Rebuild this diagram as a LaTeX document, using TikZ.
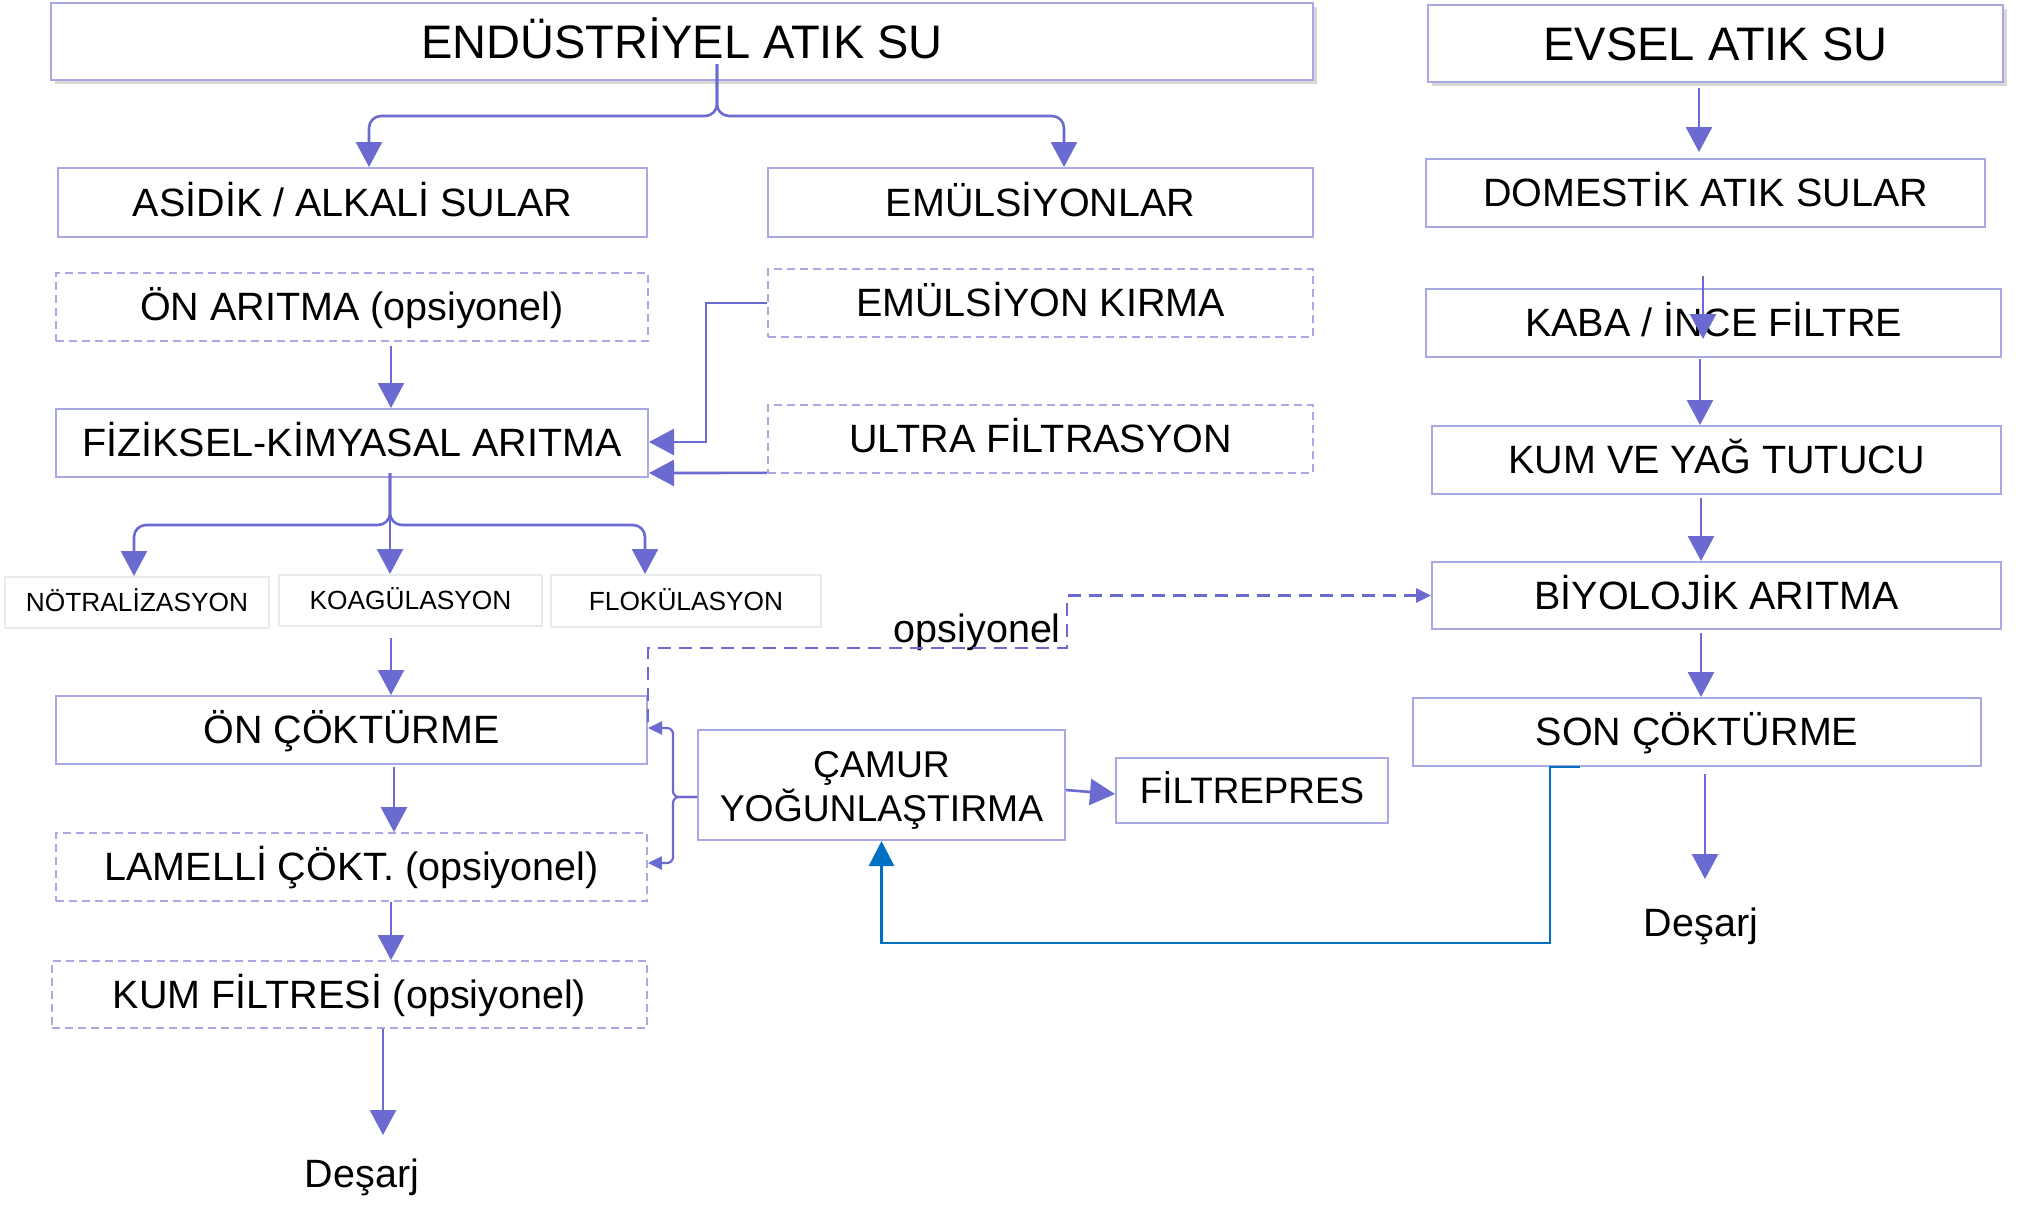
\documentclass[tikz,border=0pt]{standalone}
\usepackage{fontspec}
\setmainfont{Liberation Sans}
\usetikzlibrary{arrows.meta,shadows,calc}
\definecolor{boxc}{RGB}{168,168,228}
\definecolor{arrc}{RGB}{106,106,208}
\definecolor{blu}{RGB}{0,112,192}
\definecolor{lgray}{RGB}{234,234,234}

\begin{document}
\begin{tikzpicture}[x=1pt,y=-1pt,
  box/.style={draw=boxc, line width=2pt, fill=white, inner sep=0pt},
  dbox/.style={box, line width=1.8pt, dash pattern=on 8pt off 5pt},
  gbox/.style={box, draw=lgray},
  shad/.style={drop shadow={shadow xshift=4pt, shadow yshift=-4pt, opacity=0.25, fill=black!60}},
  tA/.style={font=\fontsize{47}{56}\selectfont, text height=34pt, text depth=1pt},
  tB/.style={font=\fontsize{39.5}{47}\selectfont, text height=28.5pt, text depth=1pt},
  tBs/.style={font=\fontsize{36.8}{45}\selectfont, text height=26.5pt, text depth=1pt},
  tC/.style={font=\fontsize{26.3}{31}\selectfont, text height=19pt, text depth=0.5pt},
  arr/.style={draw=arrc, line width=2.6pt, -{Triangle[length=25pt,width=26pt]}},
  sarr/.style={draw=arrc, line width=2.2pt, -{Triangle[length=14pt,width=13pt]}},
  barr/.style={draw=blu, line width=2.6pt, -{Triangle[length=25pt,width=25pt]}},
  dsh/.style={draw=arrc, line width=2.6pt, dash pattern=on 13pt off 8pt,
              -{Triangle[length=15pt,width=14pt]}},
]
\useasboundingbox[fill=white] (0,0) rectangle (2018,1211);

% ---- industrial line ----
\node[box, shad, tA, minimum width=1262pt, minimum height=77pt] (ind) at (682,41.5) {ENDÜSTRİYEL ATIK SU};
\node[box, tB, minimum width=589pt, minimum height=69pt] (asi) at (352.5,202.5) {ASİDİK / ALKALİ SULAR};
\node[box, tB, minimum width=545pt, minimum height=69pt] (emu) at (1040.5,202.5) {EMÜLSİYONLAR};
\node[dbox, tB, minimum width=592pt, minimum height=68pt] (onar) at (352,307) {ÖN ARITMA (opsiyonel)};
\node[dbox, tB, minimum width=545pt, minimum height=68pt] (emk) at (1040.5,303) {EMÜLSİYON KIRMA};
\node[box, tB, minimum width=592pt, minimum height=68pt] (fiz) at (352,443) {FİZİKSEL-KİMYASAL ARITMA};
\node[dbox, tB, minimum width=545pt, minimum height=68pt] (ultra) at (1040.5,439) {ULTRA FİLTRASYON};
\node[gbox, tC, minimum width=264pt, minimum height=51pt] (not) at (137,602.5) {NÖTRALİZASYON};
\node[gbox, tC, minimum width=263pt, minimum height=51pt] (koa) at (410.5,600.5) {KOAGÜLASYON};
\node[gbox, tC, minimum width=270pt, minimum height=52pt] (flo) at (686,601) {FLOKÜLASYON};
\node[box, tB, minimum width=591pt, minimum height=68pt] (onc) at (351.5,730) {ÖN ÇÖKTÜRME};
\node[dbox, tB, minimum width=591pt, minimum height=68pt] (lam) at (351.5,867) {LAMELLİ ÇÖKT. (opsiyonel)};
\node[dbox, tB, minimum width=595pt, minimum height=67pt] (kumf) at (349.5,994.5) {KUM FİLTRESİ (opsiyonel)};
\node[tB, inner sep=0pt] (des1) at (362,1174) {Deşarj};
\node[box, minimum width=367pt, minimum height=110pt] (camur) at (881.5,785) {};
\node[font=\fontsize{37.3}{45}\selectfont, align=center, inner sep=0pt] (camurtxt) at ($(camur.center)+(0,5)$) {ÇAMUR\\[-1pt]YOĞUNLAŞTIRMA};
\node[box, tBs, minimum width=272pt, minimum height=65pt] (filt) at (1252,790.5) {FİLTREPRES};

% ---- domestic line ----
\node[box, shad, tA, minimum width=575pt, minimum height=77pt] (evs) at (1715.5,43.5) {EVSEL ATIK SU};
\node[box, tB, minimum width=559pt, minimum height=68pt] (dom) at (1705.5,193) {DOMESTİK ATIK SULAR};
\node[box, tB, minimum width=575pt, minimum height=68pt] (kaba) at (1713.5,323) {KABA / İNCE FİLTRE};
\node[box, tB, minimum width=569pt, minimum height=68pt] (kum) at (1716.5,460) {KUM VE YAĞ TUTUCU};
\node[box, tB, minimum width=569pt, minimum height=67pt] (biy) at (1716.5,595.5) {BİYOLOJİK ARITMA};
\node[box, tB, minimum width=568pt, minimum height=68pt] (son) at (1697,732) {SON ÇÖKTÜRME};
\node[tB, inner sep=0pt] (des2) at (1701,923) {Deşarj};

\node[font=\fontsize{39.5}{47}\selectfont, anchor=base east, inner sep=0pt] (ops) at (1061,642) {opsiyonel};

% ---- connectors: industrial branch ----
\draw[arr, rounded corners=12pt] ($(ind.south)+(35,-17)$) |- ($(asi.north)+(16.5,-51)$) -- ($(asi.north)+(16.5,0)$);
\draw[arr, rounded corners=12pt] ($(ind.south)+(35,-17)$) |- ($(emu.north)+(23.5,-51)$) -- ($(emu.north)+(23.5,0)$);
\draw[arr] ($(onar.south)+(39,4)$) -- ($(fiz.north)+(39,0)$);
\draw[arr] (emk.west) -- ++(-61,0) |- ($(fiz.east)+(0,-1)$);
\draw[arr] ($(ultra.south west)+(0,-1)$) -- ($(fiz.south east)+(0,-5)$);
\draw[arr, rounded corners=12pt] ($(fiz.south)+(38,-5)$) |- ($(not.north)+(-3,-51)$) -- ($(not.north)+(-3,0)$);
\draw[arr] ($(fiz.south)+(38,-5)$) -- ($(koa.north)+(-20.5,0)$);
\draw[arr, rounded corners=12pt] ($(fiz.south)+(38,-5)$) |- ($(flo.north)+(-41,-49)$) -- ($(flo.north)+(-41,0)$);
\draw[arr] ($(koa.south)+(-19.5,11)$) -- ($(onc.north)+(39.5,0)$);
\draw[arr] ($(onc.south)+(42.5,2)$) -- ($(lam.north)+(42.5,0)$);
\draw[arr] ($(lam.south)+(39.5,0)$) -- ($(kumf.north)+(41.5,0)$);
\draw[arr] ($(kumf.south)+(33.5,0)$) -- ($(des1.north)+(21,-24)$);

% sludge thickener back to the settling tanks
\draw[sarr, rounded corners=6pt] ($(camur.west)+(0,12)$) -- ++(-24,0) |- ($(onc.east)+(0,-2)$);
\draw[sarr, rounded corners=6pt] ($(camur.west)+(0,12)$) -- ++(-24,0) |- ($(lam.east)+(0,-4)$);
\draw[arr] ($(camur.east)+(0,5)$) -- ($(filt.west)+(0,3.5)$);

% optional bypass to biological treatment
\draw[dsh] ($(onc.east)+(0,-8)$) |- ($(camur.north)+(185.5,-81)$) |- (biy.west);

% ---- connectors: domestic branch ----
\draw[arr] ($(evs.south)+(-16.5,5)$) -- ($(dom.north)+(-6.5,-6)$);
\draw[arr] ($(dom.south)+(-2.5,48)$) -- ($(kaba.north)+(-10.5,51)$);
\draw[arr] ($(kaba.south)+(-13.5,1)$) -- ($(kum.north)+(-16.5,0)$);
\draw[arr] ($(kum.south)+(-15.5,3)$) -- ($(biy.north)+(-15.5,0)$);
\draw[arr] ($(biy.south)+(-15.5,3)$) -- ($(son.north)+(4,0)$);
\draw[arr] ($(son.south)+(8,7)$) -- ($(des2.north)+(4,-29)$);

% excess sludge return
\draw[barr] ($(son.south)+(-117,0)$) -- ++(-30,0) |- ($(camur.south)+(0,102)$) -- (camur.south);
\end{tikzpicture}
\end{document}
